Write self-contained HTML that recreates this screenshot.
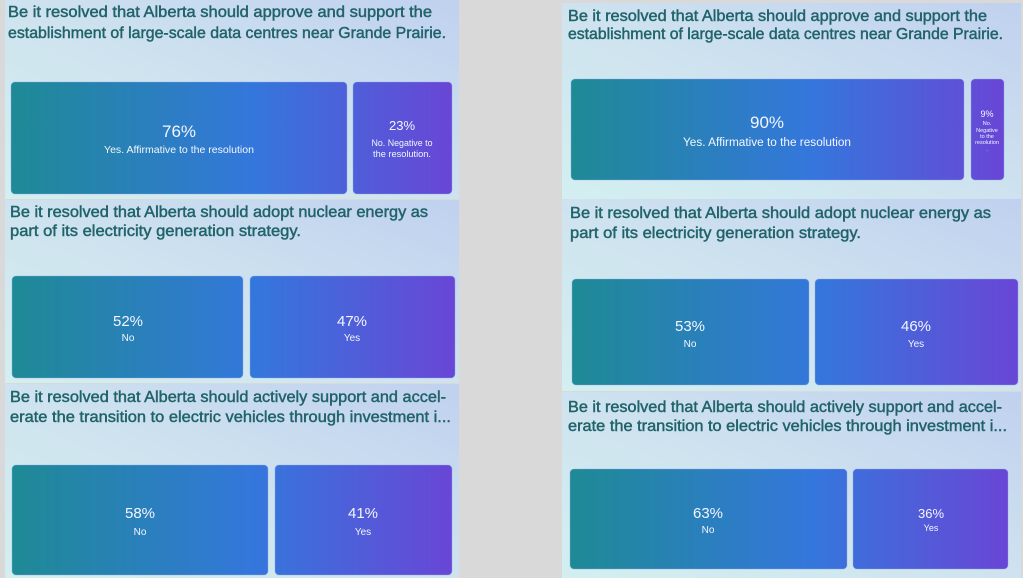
<!DOCTYPE html>
<html><head><meta charset="utf-8"><style>
html,body{margin:0;padding:0;background:#d9d9d9;}
svg{display:block;}
.t{font-family:"Liberation Sans",sans-serif;font-weight:normal;font-size:16px;fill:#21636a;stroke:#21636a;stroke-width:0.45px;}
.p{font-family:"Liberation Sans",sans-serif;fill:#f3f6ff;text-anchor:middle;}
</style></head><body>
<svg width="1023" height="578" viewBox="0 0 1023 578" xmlns="http://www.w3.org/2000/svg">
<defs>
<linearGradient id="bg" x1="0" y1="1" x2="1" y2="0">
<stop offset="0" stop-color="#d3eff0"/>
<stop offset="0.45" stop-color="#cfe4ef"/>
<stop offset="1" stop-color="#c0d1ef"/>
</linearGradient>
<linearGradient id="g1" gradientUnits="userSpaceOnUse" x1="11" y1="0" x2="452" y2="0">
<stop offset="0" stop-color="#1e8a95"/><stop offset="0.55" stop-color="#3477dc"/><stop offset="1" stop-color="#6946d6"/></linearGradient>
<linearGradient id="g2" gradientUnits="userSpaceOnUse" x1="12" y1="0" x2="455" y2="0">
<stop offset="0" stop-color="#1e8a95"/><stop offset="0.55" stop-color="#3477dc"/><stop offset="1" stop-color="#6946d6"/></linearGradient>
<linearGradient id="g3" gradientUnits="userSpaceOnUse" x1="12" y1="0" x2="452" y2="0">
<stop offset="0" stop-color="#1e8a95"/><stop offset="0.55" stop-color="#3477dc"/><stop offset="1" stop-color="#6946d6"/></linearGradient>
<linearGradient id="g4" gradientUnits="userSpaceOnUse" x1="571" y1="0" x2="1004" y2="0">
<stop offset="0" stop-color="#1e8a95"/><stop offset="0.55" stop-color="#3477dc"/><stop offset="1" stop-color="#6946d6"/></linearGradient>
<linearGradient id="g5" gradientUnits="userSpaceOnUse" x1="572" y1="0" x2="1018" y2="0">
<stop offset="0" stop-color="#1e8a95"/><stop offset="0.55" stop-color="#3477dc"/><stop offset="1" stop-color="#6946d6"/></linearGradient>
<linearGradient id="g6" gradientUnits="userSpaceOnUse" x1="570" y1="0" x2="1008" y2="0">
<stop offset="0" stop-color="#1e8a95"/><stop offset="0.55" stop-color="#3477dc"/><stop offset="1" stop-color="#6946d6"/></linearGradient>
</defs>
<rect width="1023" height="578" fill="#d9d9d9"/>

<!-- panels -->
<rect x="5" y="0" width="454" height="199" fill="url(#bg)"/>
<rect x="5" y="200" width="454" height="183" fill="url(#bg)"/>
<rect x="5" y="384" width="454" height="194" fill="url(#bg)"/>
<rect x="562" y="3" width="459" height="196" fill="url(#bg)"/>
<rect x="562" y="199" width="459" height="192" fill="url(#bg)"/>
<rect x="562" y="392" width="459" height="186" fill="url(#bg)"/>

<!-- titles -->
<text class="t" x="8" y="17" textLength="424" lengthAdjust="spacingAndGlyphs">Be it resolved that Alberta should approve and support the</text>
<text class="t" x="8" y="38" textLength="438" lengthAdjust="spacingAndGlyphs">establishment of large-scale data centres near Grande Prairie.</text>
<text class="t" x="10" y="217" textLength="418" lengthAdjust="spacingAndGlyphs">Be it resolved that Alberta should adopt nuclear energy as</text>
<text class="t" x="10" y="236" textLength="291" lengthAdjust="spacingAndGlyphs">part of its electricity generation strategy.</text>
<text class="t" x="10" y="402" textLength="436" lengthAdjust="spacingAndGlyphs">Be it resolved that Alberta should actively support and accel-</text>
<text class="t" x="10" y="422" textLength="441" lengthAdjust="spacingAndGlyphs">erate the transition to electric vehicles through investment i...</text>

<text class="t" x="568" y="21" textLength="419" lengthAdjust="spacingAndGlyphs">Be it resolved that Alberta should approve and support the</text>
<text class="t" x="568" y="39" textLength="435" lengthAdjust="spacingAndGlyphs">establishment of large-scale data centres near Grande Prairie.</text>
<text class="t" x="570" y="218" textLength="421" lengthAdjust="spacingAndGlyphs">Be it resolved that Alberta should adopt nuclear energy as</text>
<text class="t" x="570" y="238" textLength="291" lengthAdjust="spacingAndGlyphs">part of its electricity generation strategy.</text>
<text class="t" x="568" y="412" textLength="434" lengthAdjust="spacingAndGlyphs">Be it resolved that Alberta should actively support and accel-</text>
<text class="t" x="568" y="431" textLength="439" lengthAdjust="spacingAndGlyphs">erate the transition to electric vehicles through investment i...</text>

<!-- bars -->
<g stroke="#8fa8e8" stroke-opacity="0.5" stroke-width="0.8">
<rect x="11" y="82" width="336" height="112" rx="4" fill="url(#g1)"/>
<rect x="353" y="82" width="99" height="112" rx="4" fill="url(#g1)"/>
<rect x="12" y="276" width="231" height="102" rx="4" fill="url(#g2)"/>
<rect x="250" y="276" width="205" height="102" rx="4" fill="url(#g2)"/>
<rect x="12" y="465" width="256" height="110" rx="4" fill="url(#g3)"/>
<rect x="275" y="465" width="177" height="110" rx="4" fill="url(#g3)"/>
<rect x="571" y="79" width="393" height="101" rx="4" fill="url(#g4)"/>
<rect x="971" y="79" width="33" height="101" rx="4" fill="url(#g4)"/>
<rect x="572" y="279" width="237" height="106" rx="4" fill="url(#g5)"/>
<rect x="815" y="279" width="203" height="106" rx="4" fill="url(#g5)"/>
<rect x="570" y="469" width="277" height="100" rx="4" fill="url(#g6)"/>
<rect x="853" y="469" width="155" height="100" rx="4" fill="url(#g6)"/>
</g>

<!-- bar labels -->
<text class="p" x="179" y="137" font-size="17">76%</text>
<text class="p" x="179" y="153" font-size="10.5" textLength="150" lengthAdjust="spacingAndGlyphs">Yes. Affirmative to the resolution</text>
<text class="p" x="402" y="130" font-size="13">23%</text>
<text class="p" x="402" y="146" font-size="9.5" textLength="61" lengthAdjust="spacingAndGlyphs">No. Negative to</text>
<text class="p" x="402" y="157" font-size="9.5" textLength="58" lengthAdjust="spacingAndGlyphs">the resolution.</text>

<text class="p" x="128" y="326" font-size="15">52%</text>
<text class="p" x="128" y="341" font-size="10">No</text>
<text class="p" x="352" y="326" font-size="15">47%</text>
<text class="p" x="352" y="341" font-size="10">Yes</text>

<text class="p" x="140" y="518" font-size="15">58%</text>
<text class="p" x="140" y="535" font-size="10">No</text>
<text class="p" x="363" y="518" font-size="15">41%</text>
<text class="p" x="363" y="535" font-size="10">Yes</text>

<text class="p" x="767" y="128" font-size="17">90%</text>
<text class="p" x="767" y="146" font-size="11.5" textLength="168" lengthAdjust="spacingAndGlyphs">Yes. Affirmative to the resolution</text>
<text class="p" x="987" y="117" font-size="9">9%</text>
<text class="p" x="987" y="125" font-size="5.5">No.</text>
<text class="p" x="987" y="132" font-size="5.5">Negative</text>
<text class="p" x="987" y="138" font-size="5.5">to the</text>
<text class="p" x="987" y="144" font-size="5.5">resolution</text>
<text class="p" x="987" y="151" font-size="5.5">.</text>

<text class="p" x="690" y="331" font-size="15">53%</text>
<text class="p" x="690" y="347" font-size="10">No</text>
<text class="p" x="916" y="331" font-size="15">46%</text>
<text class="p" x="916" y="347" font-size="10">Yes</text>

<text class="p" x="708" y="518" font-size="15">63%</text>
<text class="p" x="708" y="533" font-size="10">No</text>
<text class="p" x="931" y="518" font-size="13">36%</text>
<text class="p" x="931" y="531" font-size="9">Yes</text>
</svg>
</body></html>
